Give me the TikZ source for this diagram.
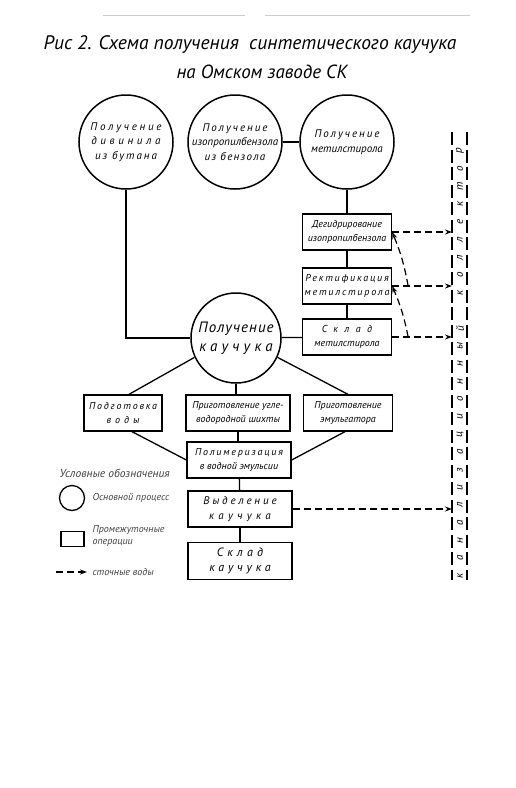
\documentclass[tikz,border=0pt]{standalone}
\usepackage{fontspec}
\setmainfont{PT Sans}
\usetikzlibrary{arrows.meta}
\newcommand\razr[2][18]{{\addfontfeature{LetterSpace=#1}#2}}
\begin{document}
\begin{tikzpicture}[x=1pt,y=-1pt,
	proc/.style={circle,draw,line width=1.5pt,minimum size=94pt,inner sep=0pt,align=center,font=\itshape\fontsize{11}{14.5}\selectfont},
	oper/.style={rectangle,draw,line width=1.3pt,minimum width=89pt,minimum height=36pt,inner sep=1pt,align=center,font=\itshape\fontsize{10}{13.5}\selectfont},
	link/.style={line width=1.3pt},
	stok/.style={line width=1.2pt,dash pattern=on 7pt off 4pt,-{Stealth[length=7pt,width=5pt]}},
	kanal/.style={line width=1.2pt,dash pattern=on 13pt off 4.5pt},
	legtxt/.style={anchor=west,align=left,text=black!75,font=\itshape\fontsize{10}{11.5}\selectfont}]
	\useasboundingbox (0,0) rectangle (516,788);
	\draw[black!20,line width=1pt] (103,15) -- (245,15);
	\draw[black!20,line width=1pt] (265,15) -- (470,15);
	\node[font=\itshape\fontsize{19.5}{22}\selectfont] (title) at (250,45) {Рис 2. Схема получения \ синтетического каучука};
	\node[font=\itshape\fontsize{19}{22}\selectfont] (title2) at (262,72) {на Омском заводе СК};
	\node[proc] (divinil) at (126,142) {\razr[25]{Получение}\\\razr[33]{дивинила}\\\razr{из бутана}};
	\node[proc] (izopropil) at (235,142) {\razr{Получение}\\изопропилбензола\\\razr[12]{из бензола}};
	\node[proc] (metil) at (347,142) {\razr{Получение}\\метилстирола};
	\node[oper] (degidr) at (347,232) {Дегидрирование\\изопропилбензола};
	\node[oper] (rektif) at (347,286) {\razr{Ректификация}\\\razr{метилстирола}};
	\node[oper] (skladm) at (347,337) {\razr[65]{Склад}\\метилстирола};
	\node[proc,minimum size=90pt,font=\itshape\fontsize{15}{19}\selectfont] (kauchuk) at (236,338) {\razr[7]{Получение}\\\razr[28]{каучука}};
	\node[oper,minimum width=78pt] (voda) at (123,413) {\razr{Подготовка}\\\razr[40]{воды}};
	\node[oper,minimum width=104pt] (shihta) at (238,413) {Приготовление угле-\\водородной шихты};
	\node[oper] (emulg) at (348,413) {Приготовление\\эмульгатора};
	\node[oper,minimum width=104pt] (polim) at (239,460) {\razr{Полимеризация}\\в водной эмульсии};
	\node[oper,minimum width=104pt,font=\itshape\fontsize{11}{15}\selectfont] (vydel) at (240,509) {\razr[26]{Выделение}\\\razr[40]{каучука}};
	\node[oper,minimum width=104pt,minimum height=37pt,font=\itshape\fontsize{12}{15}\selectfont] (skladk) at (240,561) {\razr[35]{Склад}\\\razr[32]{каучука}};
	\coordinate (kl1) at (452,132);
	\coordinate (kl2) at (452,580);
	\coordinate (kr1) at (467,132);
	\coordinate (kr2) at (467,580);
	\draw[kanal] (kl1) -- (kl2);
	\draw[kanal] (kr1) -- (kr2);
	\foreach \b [count=\k] in {к,а,н,а,л,и,з,а,ц,и,о,н,н,ы,й,{},к,о,л,л,е,к,т,о,р}
		\node[rotate=90,inner sep=0pt,font=\itshape\fontsize{11}{11}\selectfont] (bukva\k) at (460,{576-17.7*(\k-1)}) {\b};
	\draw[link] (divinil) |- (kauchuk);
	\draw[link] (izopropil) -- (metil);
	\draw[link] (metil) -- (degidr);
	\draw[link] (degidr) -- (rektif);
	\draw[link] (rektif) -- (skladm);
	\draw[link] (kauchuk) -- (skladm);
	\draw[link] (kauchuk.205) -- ([xshift=6pt]voda.north);
	\draw[link] (kauchuk.south) -- (kauchuk.south |- shihta.north);
	\draw[link] (kauchuk.-25) -- (emulg.north);
	\draw[link] ([xshift=9pt]voda.south) -- (polim.west);
	\draw[link] ([xshift=-3pt]emulg.south) -- (polim.east);
	\draw[link] (shihta.south) -- (shihta.south |- polim.north);
	\draw[link] (polim) -- (vydel);
	\draw[link] (vydel) -- (skladk);
	\draw[stok] (degidr.east) -- (degidr.east -| kl1);
	\draw[stok] (rektif.east) -- (rektif.east -| kl1);
	\draw[stok] (skladm.east) -- (skladm.east -| kl1);
	\draw[stok] (vydel.east) -- (vydel.east -| kl1);
	\coordinate (otv1) at ([xshift=16pt]rektif.east);
	\coordinate (otv2) at ([xshift=16pt]skladm.east);
	\draw[stok] (otv1) to[bend right=6] (degidr.east);
	\draw[stok] (otv2) to[bend right=6] (rektif.east);
	\node[legtxt,font=\itshape\fontsize{11.5}{12}\selectfont] (legzag) at (56,473) {Условные обозначения};
	\node[circle,draw,line width=1.3pt,minimum size=25pt] (legkrug) at (72,498) {};
	\node[legtxt] (legkrugtxt) at (89,498) {Основной процесс};
	\node[rectangle,draw,line width=1.3pt,minimum width=23pt,minimum height=15pt] (legpr) at (72.5,539) {};
	\node[legtxt] (legprtxt) at (89,536) {Промежуточные\\операции};
	\coordinate (legs1) at (56,572);
	\coordinate (legs2) at (87,572);
	\draw[stok] (legs1) -- (legs2);
	\node[legtxt] (legstxt) at (89,572) {сточные воды};
\end{tikzpicture}
\end{document}
